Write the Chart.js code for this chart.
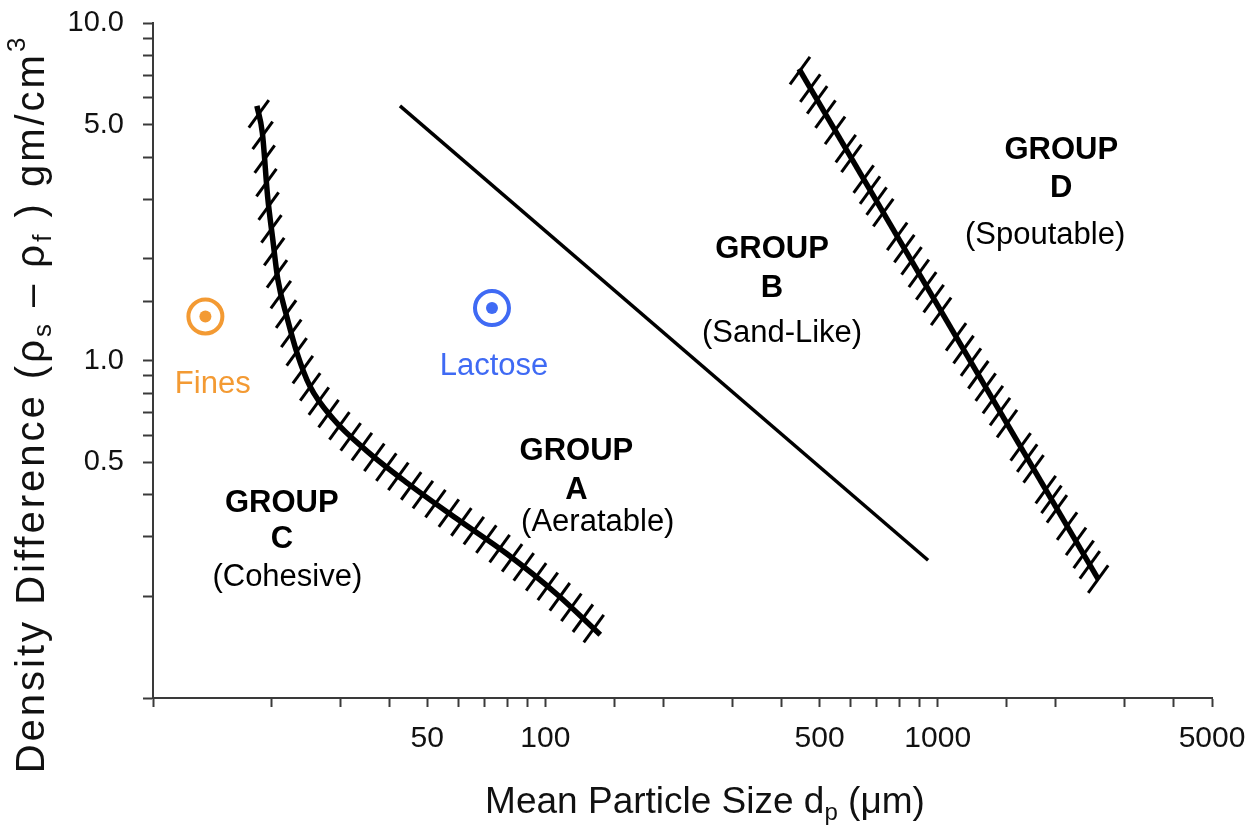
<!DOCTYPE html>
<html>
<head>
<meta charset="utf-8">
<script src="https://cdn.jsdelivr.net/npm/chart.js@4.4.1/dist/chart.umd.min.js"></script>
<style>
  body { margin: 0; background: #fff; }
</style>
</head>
<body>
<canvas id="geldart" width="1256" height="831"></canvas>
<script>
// boundaries: mean particle size (um) vs density difference (g/cm3)
const cBoundaryX = [18.4, 19.0, 19.6, 20.2, 20.8, 22.0, 23.3, 25.1, 28.8, 35.1, 44.4, 59.6, 79.9, 107, 138]
const cBoundaryY = [5.68, 4.72, 3.05, 2.28, 1.74, 1.33, 1.05, 0.840, 0.671, 0.539, 0.434, 0.339, 0.267, 0.203, 0.154]
const abBoundaryX = [42.6, 945]
const abBoundaryY = [5.68, 0.256]
const bdBoundaryX = [443, 2564]
const bdBoundaryY = [7.31, 0.225]

// measured powders
const powderNames = ['Fines', 'Lactose']
const powderX = [13.6, 73.1]
const powderY = [1.35, 1.43]
const powderColors = ['#f39a33', '#3f6af4']

// tick labels shown
const xTickLabels = [50, 100, 500, 1000, 5000]
const yTickLabels = [0.5, 1, 5, 10]

// region labels
const labelText = ['GROUP', 'C', '(Cohesive)', 'GROUP', 'A', '(Aeratable)',
  'GROUP', 'B', '(Sand-Like)', 'GROUP', 'D', '(Spoutable)', 'Fines', 'Lactose']
const labelX = [21.3, 21.3, 22.0, 120, 120, 136, 378, 378, 401, 2064, 2064, 1878, 14.2, 74.0]
const labelY = [0.378, 0.294, 0.227, 0.536, 0.413, 0.332, 2.13, 1.63, 1.20, 4.20, 3.24, 2.34, 0.850, 0.960]
const labelBold = [1, 1, 0, 1, 1, 0, 1, 1, 0, 1, 1, 0, 0, 0]
const labelColor = ['#000', '#000', '#000', '#000', '#000', '#000', '#000', '#000', '#000', '#000', '#000', '#000', powderColors[0], powderColors[1]]

const FONT = '"Liberation Sans", Arial, Helvetica, sans-serif'

function toPoints(xs, ys) {
  return xs.map((x, i) => ({ x: x, y: ys[i] }))
}

function near(v, list) {
  return list.some(t => Math.abs(v / t - 1) < 1e-6)
}

// hatch marks along a drawn line
const hatchPlugin = {
  id: 'hatch',
  afterDatasetsDraw(chart) {
    const ctx = chart.ctx
    chart.data.datasets.forEach((ds, i) => {
      if (!ds.hatch) return
      const pts = chart.getDatasetMeta(i).data
      const path = []
      for (let k = 0; k < pts.length - 1; k++) {
        const a = pts[k], b = pts[k + 1]
        const c1x = a.cp2x ?? a.x, c1y = a.cp2y ?? a.y
        const c2x = b.cp1x ?? b.x, c2y = b.cp1y ?? b.y
        for (let s = 0; s < 60; s++) {
          const t = s / 60, u = 1 - t
          path.push([
            u * u * u * a.x + 3 * u * u * t * c1x + 3 * u * t * t * c2x + t * t * t * b.x,
            u * u * u * a.y + 3 * u * u * t * c1y + 3 * u * t * t * c2y + t * t * t * b.y
          ])
        }
      }
      const last = pts[pts.length - 1]
      path.push([last.x, last.y])

      const h = ds.hatch
      const ang = h.angle * Math.PI / 180
      const hx = Math.cos(ang), hy = -Math.sin(ang)
      const nx = -hy, ny = hx
      ctx.save()
      ctx.strokeStyle = '#000'
      ctx.lineWidth = h.width
      ctx.lineCap = 'butt'
      let acc = h.spacing * h.start
      for (let k = 1; k < path.length; k++) {
        const dx = path[k][0] - path[k - 1][0], dy = path[k][1] - path[k - 1][1]
        acc += Math.abs(dx * nx + dy * ny)
        if (acc >= h.spacing) {
          acc -= h.spacing
          const px = path[k][0], py = path[k][1]
          ctx.beginPath()
          ctx.moveTo(px - hx * h.length * 0.5, py - hy * h.length * 0.5)
          ctx.lineTo(px + hx * h.length * 0.5, py + hy * h.length * 0.5)
          ctx.stroke()
        }
      }
      ctx.restore()
    })
  }
}

function drawRich(ctx, parts, size) {
  const widths = parts.map(p => {
    ctx.font = (p[1] ? size * 0.65 : size) + 'px ' + FONT
    return ctx.measureText(p[0]).width
  })
  let x = -widths.reduce((a, b) => a + b, 0) / 2
  parts.forEach((p, i) => {
    ctx.font = (p[1] ? size * 0.65 : size) + 'px ' + FONT
    let dy = 0
    if (p[1] === 'sub') dy = size * 0.28
    if (p[1] === 'sup') dy = -size * 0.38
    ctx.fillText(p[0], x, dy)
    x += widths[i]
  })
}

const textPlugin = {
  id: 'texts',
  afterDraw(chart) {
    const ctx = chart.ctx
    const xs = chart.scales.x, ys = chart.scales.y
    ctx.save()
    ctx.textAlign = 'center'
    ctx.textBaseline = 'middle'
    labelText.forEach((t, i) => {
      ctx.fillStyle = labelColor[i]
      ctx.font = (labelBold[i] ? 'bold ' : '') + '31px ' + FONT
      ctx.fillText(t, xs.getPixelForValue(labelX[i]), ys.getPixelForValue(labelY[i]))
    })

    // axis titles with sub/superscripts
    ctx.fillStyle = '#111'
    ctx.textAlign = 'left'
    ctx.save()
    ctx.translate(705, 803)
    drawRich(ctx, [['Mean Particle Size d', ''], ['p', 'sub'], [' (\u03bcm)', '']], 37)
    ctx.restore()
    ctx.save()
    ctx.translate(33, 404)
    ctx.rotate(-Math.PI / 2)
    ctx.letterSpacing = '3px'
    drawRich(ctx, [['Density Difference (\u03c1', ''], ['s', 'sub'], [' \u2013 \u03c1', ''], ['f', 'sub'],
      [' ) gm/cm', ''], ['3', 'sup']], 40)
    ctx.restore()
    ctx.restore()
  }
}

const lineStyle = { showLine: true, pointRadius: 0, borderColor: '#000', borderCapStyle: 'butt', fill: false }

new Chart(document.getElementById('geldart'), {
  type: 'scatter',
  data: {
    datasets: [
      Object.assign({
        label: 'C/A boundary', data: toPoints(cBoundaryX, cBoundaryY), borderWidth: 5.5,
        cubicInterpolationMode: 'monotone',
        hatch: { angle: 54, length: 34, spacing: 15.5, width: 3, start: 0.6 }
      }, lineStyle),
      Object.assign({ label: 'A/B boundary', data: toPoints(abBoundaryX, abBoundaryY), borderWidth: 3.5 }, lineStyle),
      Object.assign({
        label: 'B/D boundary', data: toPoints(bdBoundaryX, bdBoundaryY), borderWidth: 5.5,
        hatch: { angle: 54, length: 34, spacing: 15, width: 3, start: 0.9 }
      }, lineStyle),
      {
        label: 'powder dot', data: toPoints(powderX, powderY), pointRadius: 6, borderWidth: 0,
        pointBackgroundColor: powderColors
      },
      {
        label: 'powder ring', data: toPoints(powderX, powderY), pointRadius: 17, borderWidth: 4,
        pointBorderColor: powderColors, pointBackgroundColor: '#fff'
      }
    ]
  },
  options: {
    responsive: false,
    animation: false,
    devicePixelRatio: 1,
    layout: { padding: { top: 23, right: 44, bottom: 0, left: 0 } },
    plugins: { legend: { display: false }, tooltip: { enabled: false } },
    scales: {
      x: {
        type: 'logarithmic', min: 10, max: 5000,
        afterFit: s => { s.height = 133; s.paddingLeft = 0; s.paddingRight = 0 },
        border: { color: '#3a3a3a', width: 2 },
        grid: { drawOnChartArea: false, tickLength: 9, tickColor: '#3a3a3a', tickWidth: 2 },
        ticks: {
          autoSkip: false, maxRotation: 0, padding: 14, color: '#111',
          font: { family: FONT, size: 30 },
          callback: v => near(v, xTickLabels) ? String(Math.round(v)) : ''
        }
      },
      y: {
        type: 'logarithmic', min: 0.1, max: 10,
        afterFit: s => { s.width = 153; s.paddingTop = 0; s.paddingBottom = 0 },
        border: { color: '#3a3a3a', width: 2 },
        grid: { drawOnChartArea: false, tickLength: 10, tickColor: '#3a3a3a', tickWidth: 2 },
        ticks: {
          autoSkip: false, padding: 19, color: '#111',
          font: { family: FONT, size: 29 },
          callback: v => near(v, yTickLabels) ? v.toFixed(1) : ''
        }
      }
    }
  },
  plugins: [hatchPlugin, textPlugin]
})
</script>
</body>
</html>
